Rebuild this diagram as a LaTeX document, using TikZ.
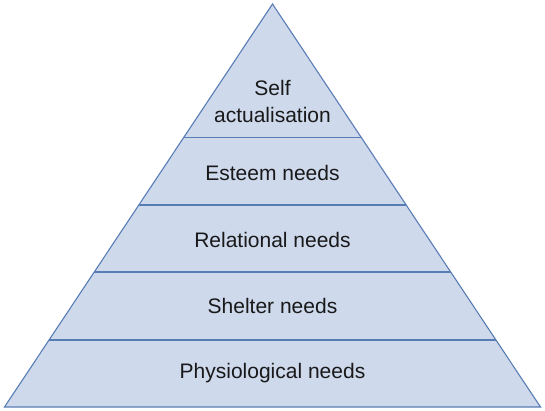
\documentclass[tikz,border=0pt]{standalone}
\usepackage{fontspec}
\setmainfont{Liberation Sans}
\usetikzlibrary{calc}

\definecolor{tierfill}{RGB}{206,217,236}
\definecolor{tierline}{RGB}{88,124,180}

\begin{document}
\begin{tikzpicture}[x=1pt,y=-1pt]
\tikzset{
  pyramid/.style={fill=tierfill, draw=tierline, line width=1.1pt, line join=miter},
  divider/.style={draw=tierline, line width=1.1pt},
  tier/.style={align=center, inner sep=0pt, text=black!90,
    font=\fontsize{21}{27}\selectfont}
}
\useasboundingbox (0,0) rectangle (545,411);

% Corners of the pyramid
\coordinate (apex) at (272.5,4);
\coordinate (bl) at (4.5,407);
\coordinate (br) at (540.5,407);
\draw[pyramid] (apex) -- (bl) -- (br) -- cycle;

% Tier dividers
\coordinate (l1) at ($(apex)!0.3313!(bl)$);
\coordinate (r1) at ($(apex)!0.3313!(br)$);
\coordinate (l2) at ($(apex)!0.4988!(bl)$);
\coordinate (r2) at ($(apex)!0.4988!(br)$);
\coordinate (l3) at ($(apex)!0.6650!(bl)$);
\coordinate (r3) at ($(apex)!0.6650!(br)$);
\coordinate (l4) at ($(apex)!0.8337!(bl)$);
\coordinate (r4) at ($(apex)!0.8337!(br)$);
\draw[divider] (l1) -- (r1);
\draw[divider] (l2) -- (r2);
\draw[divider] (l3) -- (r3);
\draw[divider] (l4) -- (r4);

% Labels
\node[tier] (self) at (272.5,101) {Self\\actualisation};
\node[tier] (esteem) at (272.5,173) {Esteem needs};
\node[tier] (relational) at (272.5,240) {Relational needs};
\node[tier] (shelter) at (272.5,306) {Shelter needs};
\node[tier] (physio) at (272.5,373) {Physiological needs};
\end{tikzpicture}
\end{document}
